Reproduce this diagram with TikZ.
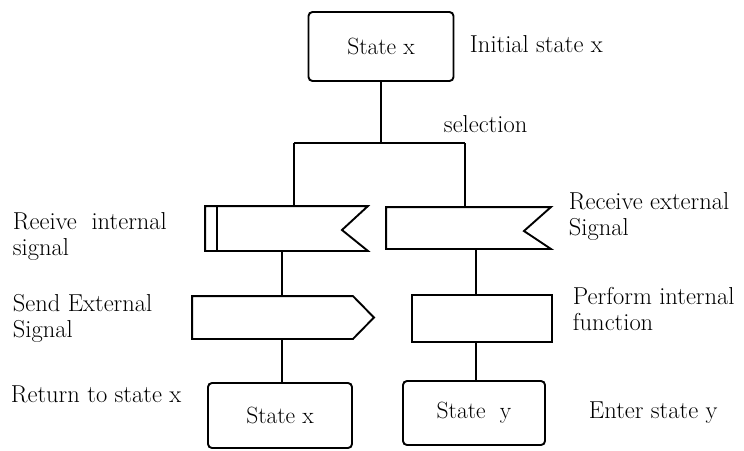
\documentclass[tikz,border=0pt]{standalone}
\usetikzlibrary{calc}
\begin{document}
\begin{tikzpicture}[x=1pt, y=-1pt,
  line width=1.9pt, line join=miter,
  every node/.style={inner sep=0pt, font=\fontsize{24.5}{26}\selectfont},
  state/.style={draw, rounded corners=4pt, font=\fontsize{23.5}{26}\selectfont},
  flag/.style={draw=none},
  task/.style={draw},
  lbl/.style={align=left}
]
\useasboundingbox (0,0) rectangle (744,450);

% state and activity boxes
\node[state, minimum width=145pt, minimum height=69pt] (s0) at (381,46.5) {State x};
\node[flag, minimum width=161pt, minimum height=43pt] (ri) at (286.5,228.5) {};
\node[flag, minimum width=163pt, minimum height=40pt] (re) at (468.5,228) {};
\node[flag, minimum width=180pt, minimum height=41pt] (se) at (283,317.5) {};
\node[task, minimum width=140pt, minimum height=47pt] (pf) at (482,318.5) {};
\node[state, minimum width=144pt, minimum height=65pt] (s1) at (280,415.5) {State x};
\node[state, minimum width=142pt, minimum height=64pt] (s2) at (474,413) {State\ \ y};

% receive (notched) and send (pointed) outlines
\draw (ri.north west) -- (ri.north east) -- ($(ri.east)+(-26,1.5)$) -- (ri.south east) -- (ri.south west) -- cycle;
\draw ($(ri.north west)+(12,0)$) -- ($(ri.south west)+(12,0)$);
\draw (re.north west) -- (re.north east) -- ($(re.east)+(-27,3)$) -- (re.south east) -- (re.south west) -- cycle;
\draw (se.north west) -- ($(se.north east)+(-21,0)$) -- (se.east) -- ($(se.south east)+(-21,0)$) -- (se.south west) -- cycle;

% connectors
\coordinate (jl) at (294,143);
\coordinate (jr) at (465,143);
\coordinate (colL) at (282,0);
\coordinate (colR) at (476,0);
\draw (s0.south) -- (s0.south |- jl);
\draw (jl) -- (jr);
\draw (jl) -- (jl |- ri.north);
\draw (jr) -- (jr |- re.north);
\draw (ri.south -| colL) -- (se.north -| colL);
\draw (se.south -| colL) -- (s1.north -| colL);
\draw (re.south -| colR) -- (pf.north -| colR);
\draw (pf.south -| colR) -- (s2.north -| colR);

% annotations
\node[anchor=base west] (tInit) at (469,52) {Initial state x};
\node[anchor=base west] (tSel) at (443,132) {selection};
\node[lbl, anchor=west] (tRi) at (12,236) {Reeive\ \ internal\\signal};
\node[lbl, anchor=west] (tSe) at (12,318) {Send External\\Signal};
\node[anchor=base west] (tRet) at (10,402) {Return to state x};
\node[lbl, anchor=west] (tRe) at (568,216) {Receive external\\Signal};
\node[lbl, anchor=west] (tPf) at (572,308.5) {Perform internal\\function};
\node[anchor=base west] (tEnt) at (588,418) {Enter state y};
\end{tikzpicture}
\end{document}
